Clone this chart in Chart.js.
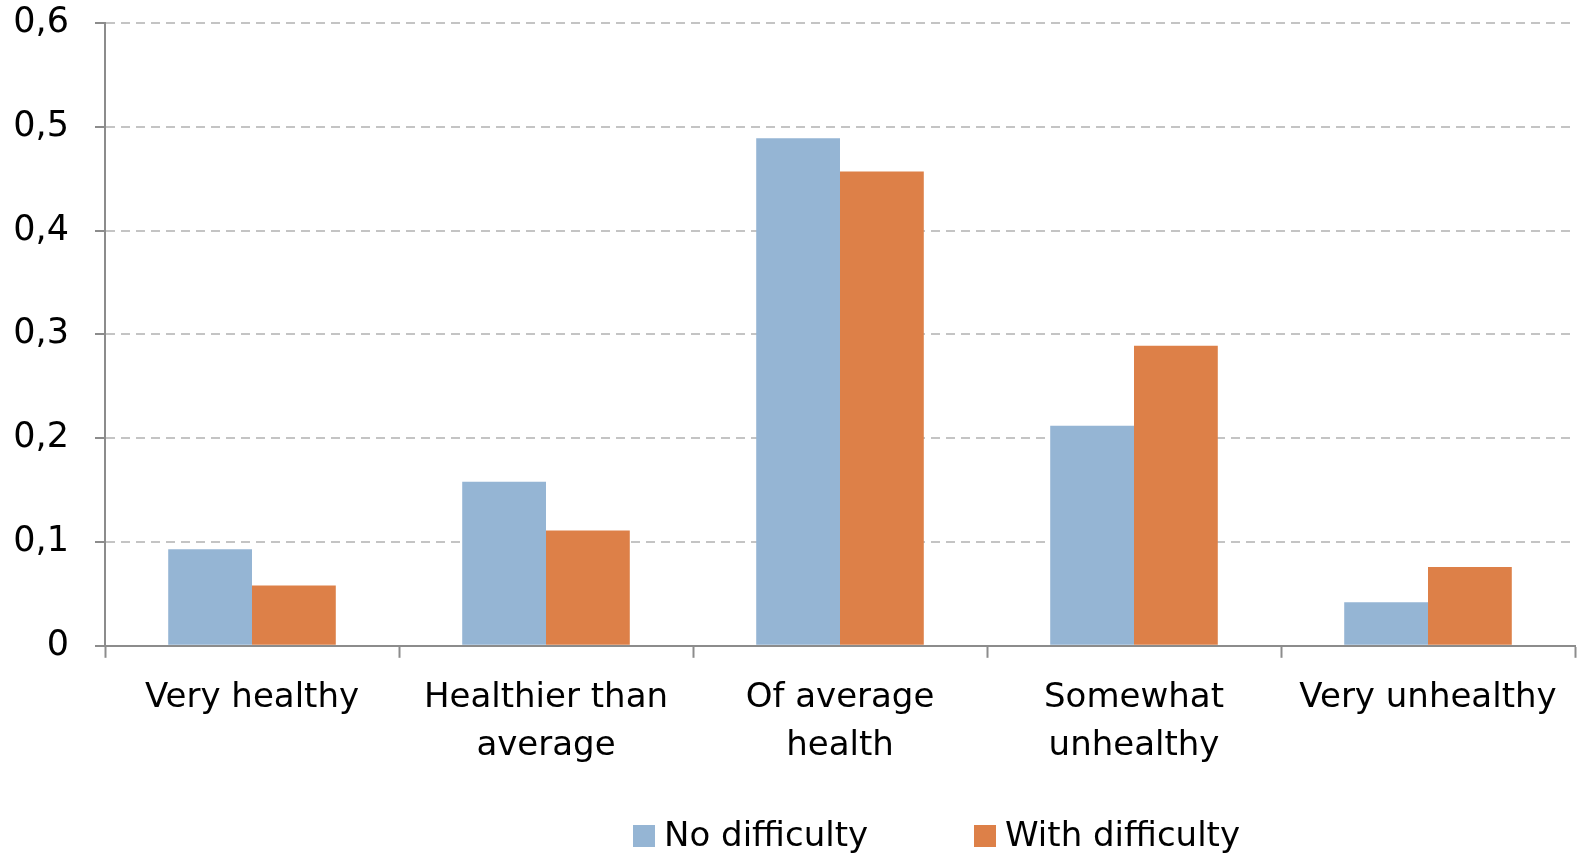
<!DOCTYPE html>
<html>
<head>
<meta charset="utf-8">
<script src="https://cdn.jsdelivr.net/npm/chart.js@4/dist/chart.umd.min.js"></script>
<style>
  html, body { margin: 0; padding: 0; background: #fff; }
  #wrap { position: relative; width: 1577px; height: 853px; }
  .legend-item {
    position: absolute;
    top: 812px;
    height: 44px;
    line-height: 44px;
    font-family: "DejaVu Sans", sans-serif;
    font-size: 34px;
    color: #000;
    white-space: nowrap;
  }
  .legend-item span {
    display: inline-block;
    width: 22px;
    height: 22px;
    margin-right: 9px;
    vertical-align: -1px;
  }
</style>
</head>
<body>
<div id="wrap">
  <canvas id="healthChart" width="1577" height="853"></canvas>
  <div id="legend"></div>
</div>
<script>
  // categories and values
  const categories = [
    'Very healthy',
    ['Healthier than', 'average'],
    ['Of average', 'health'],
    ['Somewhat', 'unhealthy'],
    'Very unhealthy'
  ];
  const noDifficulty = [0.093, 0.158, 0.489, 0.212, 0.042];
  const withDifficulty = [0.058, 0.111, 0.457, 0.289, 0.076];
  const yTicks = [0, 0.1, 0.2, 0.3, 0.4, 0.5, 0.6];
  const seriesNames = ['No difficulty', 'With difficulty'];
  const seriesColors = ['#95b5d4', '#dd8048'];

  const ctx = document.getElementById('healthChart').getContext('2d');
  const fontFamily = '"DejaVu Sans", sans-serif';

  const chart = new Chart(ctx, {
    type: 'bar',
    data: {
      labels: categories,
      datasets: [{
        label: seriesNames[0],
        data: noDifficulty,
        backgroundColor: seriesColors[0]
      }, {
        label: seriesNames[1],
        data: withDifficulty,
        backgroundColor: seriesColors[1]
      }]
    },
    options: {
      responsive: false,
      animation: false,
      layout: { padding: { top: 23, right: 2, left: 6, bottom: 66 } },
      categoryPercentage: 0.57,
      barPercentage: 1.0,
      plugins: {
        legend: { display: false },
        tooltip: { enabled: false }
      },
      scales: {
        x: {
          grid: {
            offset: true,
            drawOnChartArea: false,
            tickLength: 12,
            tickColor: '#8c8c8c',
            tickWidth: 2
          },
          border: { color: '#8c8c8c', width: 2 },
          ticks: {
            color: '#000',
            padding: 17,
            maxRotation: 0,
            autoSkip: false,
            font: { family: fontFamily, size: 34, lineHeight: 1.4 }
          }
        },
        y: {
          min: 0,
          max: 0.6,
          afterBuildTicks: function (axis) {
            axis.ticks = yTicks.map(v => ({ value: v }));
          },
          afterFit: function (axis) {
            // fixed axis width and no extra room for the top label
            axis.width = 99;
            axis.paddingTop = 0;
            axis.paddingBottom = 0;
          },
          grid: {
            color: '#c4c4c4',
            lineWidth: 2,
            tickLength: 10,
            tickColor: '#8c8c8c',
            tickWidth: 2,
            tickBorderDash: []
          },
          border: { color: '#8c8c8c', width: 2, dash: [9, 6] },
          ticks: {
            color: '#000',
            padding: 26,
            font: { family: fontFamily, size: 35 },
            callback: function (v) {
              return v === 0 ? '0' : v.toFixed(1).replace('.', ',');
            }
          }
        }
      }
    }
  });

  // Legend placed where the original has it (not centred on the canvas)
  const legendX = [633, 974];
  const legend = document.getElementById('legend');
  seriesNames.forEach(function (name, i) {
    const item = document.createElement('div');
    item.className = 'legend-item';
    item.style.left = legendX[i] + 'px';
    item.innerHTML = '<span style="background:' + seriesColors[i] + '"></span>' + name;
    legend.appendChild(item);
  });
</script>
</body>
</html>
